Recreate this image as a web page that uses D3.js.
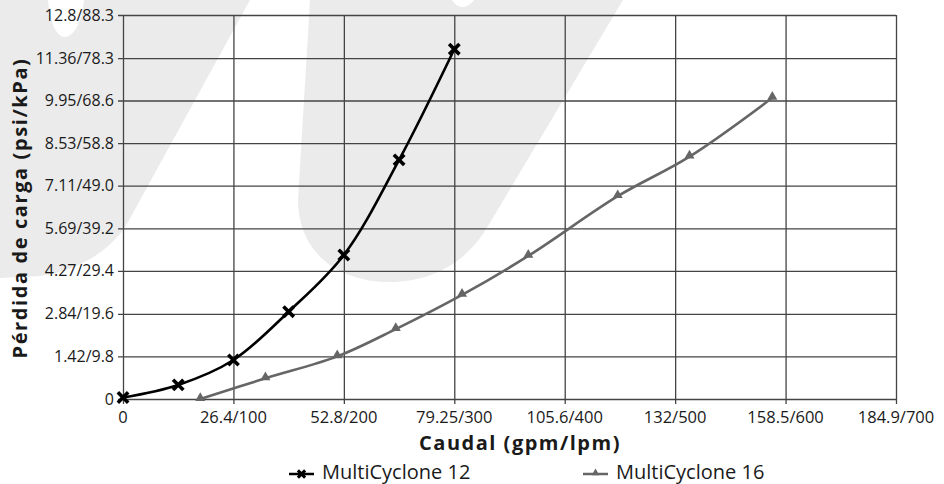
<!DOCTYPE html>
<html>
<head>
<meta charset="utf-8">
<script src="https://cdn.jsdelivr.net/npm/d3@7"></script>
<style>
  body { margin: 0; background: #fff; }
  text { font-family: "Open Sans", sans-serif; fill: #1a1a1a; }
</style>
</head>
<body>
<svg width="944" height="484"></svg>
<script>
// caudal en lpm, perdida en psi
const flow12 = [0, 50, 100, 150, 200, 250, 300];
const drop12 = [0.05, 0.47, 1.3, 2.91, 4.8, 7.97, 11.66];
const flow16 = [70, 129, 194, 247, 307, 367, 448, 513, 588];
const drop16 = [0, 0.69, 1.42, 2.33, 3.47, 4.77, 6.76, 8.08, 10.04];

const xTicks = [0, 100, 200, 300, 400, 500, 600, 700];
const xTickLabels = ['0', '26.4/100', '52.8/200', '79.25/300', '105.6/400', '132/500', '158.5/600', '184.9/700'];
const yTicks = [0, 1.42, 2.84, 4.27, 5.69, 7.11, 8.53, 9.95, 11.36, 12.8];
const yTickLabels = ['0', '1.42/9.8', '2.84/19.6', '4.27/29.4', '5.69/39.2', '7.11/49.0', '8.53/58.8', '9.95/68.6', '11.36/78.3', '12.8/88.3'];

const seriesNames = ['MultiCyclone 12', 'MultiCyclone 16'];

const svg = d3.select('svg');

// marca de agua de fondo
const wm = svg.append('g').attr('fill', '#ebebeb');
wm.append('path')
  .attr('d', 'M0,0 L48,0 C50,24 57,37 65,37 C74,37 82,22 84,0 L250,0 L128,222 C112,250 80,270 40,276 L0,278 Z');
wm.append('path')
  .attr('d', 'M310,0 L452,0 C455,5 459,7 463,7 C467,7 471,4 474,0 L623,0 L488,226 C466,264 430,282 390,282 C335,282 298,250 298,200 Z');

const x = d3.scaleLinear().domain([0, 700]).range([123, 896]);
const y = d3.scaleLinear().domain([0, 12.8]).range([399, 15]);

// rejilla
svg.append('g')
  .attr('transform', 'translate(0,399)')
  .call(d3.axisBottom(x).tickValues(xTicks).tickSize(-384).tickSizeOuter(0).tickFormat(''))
  .call(g => g.select('.domain').remove())
  .call(g => g.selectAll('line').attr('stroke', '#444').attr('stroke-width', 1.3).attr('y1', 5));

svg.append('g')
  .attr('transform', 'translate(123,0)')
  .call(d3.axisLeft(y).tickValues(yTicks).tickSize(-773).tickSizeOuter(0).tickFormat(''))
  .call(g => g.select('.domain').remove())
  .call(g => g.selectAll('line').attr('stroke', '#444').attr('stroke-width', 1.3).attr('x1', -5));

// etiquetas de ejes
svg.append('g').selectAll('text')
  .data(xTicks)
  .enter()
  .append('text')
  .attr('x', d => x(d))
  .attr('y', 423)
  .attr('text-anchor', 'middle')
  .attr('font-size', 16.5)
  .text((d, i) => xTickLabels[i]);

svg.append('g').selectAll('text')
  .data(yTicks)
  .enter()
  .append('text')
  .attr('x', 114)
  .attr('y', d => y(d) + 5.5)
  .attr('text-anchor', 'end')
  .attr('font-size', 16)
  .text((d, i) => yTickLabels[i]);

svg.append('text')
  .attr('x', 520)
  .attr('y', 450)
  .attr('text-anchor', 'middle')
  .attr('font-size', 20)
  .attr('font-weight', 'bold')
  .attr('letter-spacing', 1.5)
  .text('Caudal (gpm/lpm)');

svg.append('text')
  .attr('transform', 'translate(27,208) rotate(-90)')
  .attr('text-anchor', 'middle')
  .attr('font-size', 20)
  .attr('font-weight', 'bold')
  .attr('letter-spacing', 1.6)
  .text('Pérdida de carga (psi/kPa)');

// lineas
const line = d3.line()
  .x(d => x(d[0]))
  .y(d => y(d[1]))
  .curve(d3.curveCatmullRom.alpha(0.5));

const pts12 = flow12.map((f, i) => [f, drop12[i]]);
const pts16 = flow16.map((f, i) => [f, drop16[i]]);

svg.append('path')
  .attr('d', line(pts16))
  .attr('fill', 'none')
  .attr('stroke', '#666')
  .attr('stroke-width', 2.6);

svg.append('path')
  .attr('d', line(pts12))
  .attr('fill', 'none')
  .attr('stroke', '#000')
  .attr('stroke-width', 2.6);

const cross = d3.symbol(d3.symbolX, 72);
const tri = d3.symbol(d3.symbolTriangle, 44);

svg.append('g').selectAll('path')
  .data(pts16)
  .enter()
  .append('path')
  .attr('transform', d => `translate(${x(d[0])},${y(d[1]) - 1})`)
  .attr('d', tri)
  .attr('fill', '#666');

svg.append('g').selectAll('path')
  .data(pts12)
  .enter()
  .append('path')
  .attr('transform', d => `translate(${x(d[0])},${y(d[1])})`)
  .attr('d', cross)
  .attr('fill', 'none')
  .attr('stroke', '#000')
  .attr('stroke-width', 3.6);

// leyenda
const legend = svg.append('g');
const legendItems = [
  { x: 289, color: '#000', sym: 'x' },
  { x: 583, color: '#666', sym: 'tri' }
];
legendItems.forEach((it, i) => {
  legend.append('line')
    .attr('x1', it.x).attr('x2', it.x + 25)
    .attr('y1', 474).attr('y2', 474)
    .attr('stroke', it.color)
    .attr('stroke-width', 2.5);
  const s = legend.append('path')
    .attr('transform', `translate(${it.x + 12.5},${474 - (it.sym === 'tri' ? 1 : 0)})`);
  if (it.sym === 'x') {
    s.attr('d', d3.symbol(d3.symbolX, 36)).attr('fill', 'none').attr('stroke', it.color).attr('stroke-width', 3);
  } else {
    s.attr('d', d3.symbol(d3.symbolTriangle, 26)).attr('fill', it.color);
  }
  legend.append('text')
    .attr('x', it.x + 33)
    .attr('y', 479)
    .attr('font-size', 20)
    .text(seriesNames[i]);
});
</script>
</body>
</html>
